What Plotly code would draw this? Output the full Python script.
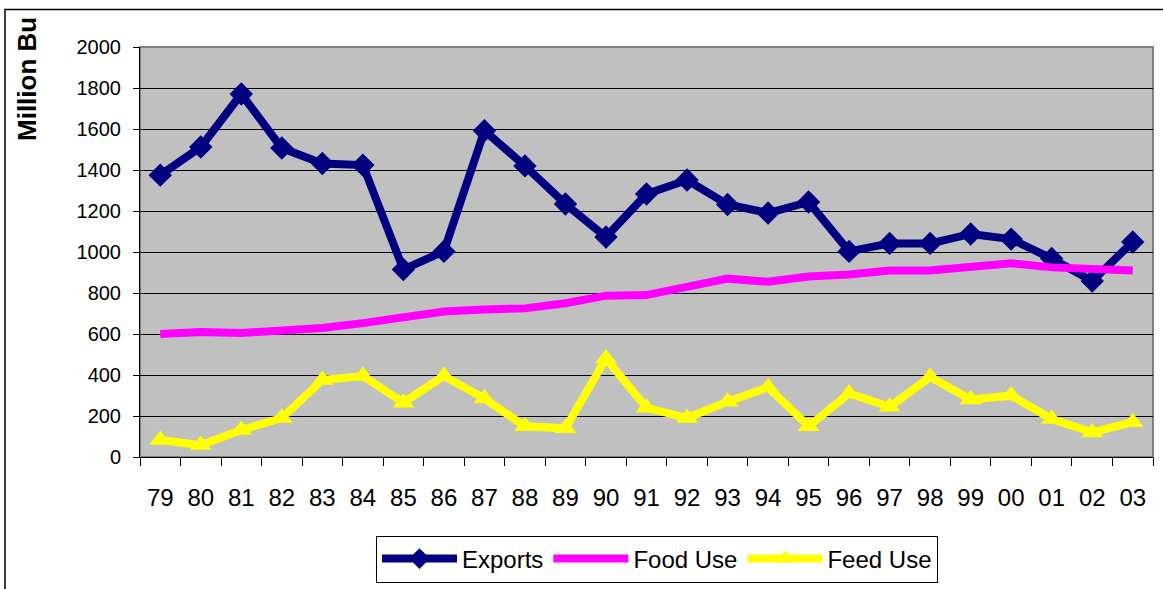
import plotly.graph_objects as go

years = ["79", "80", "81", "82", "83", "84", "85", "86", "87", "88", "89", "90", "91",
         "92", "93", "94", "95", "96", "97", "98", "99", "00", "01", "02", "03"]
exports = [1375, 1512, 1771, 1507, 1432, 1424, 915, 1003, 1592, 1420, 1234, 1073, 1283,
           1351, 1232, 1190, 1244, 1003, 1042, 1042, 1088, 1063, 968, 858, 1049]
food_use = [600, 610, 605, 615, 629, 653, 680, 710, 720, 725, 750, 787, 790,
            830, 870, 855, 880, 890, 910, 910, 930, 945, 925, 915, 910]
feed_use = [83, 58, 132, 190, 376, 395, 265, 395, 285, 150, 140, 480, 240,
            190, 270, 340, 150, 310, 245, 390, 280, 300, 185, 120, 170]

W, H = 1163, 589
L, R, T, B = 140, 1153, 47, 457

def px_x(p):
    return (p - L) / (R - L)

def px_y(p):
    return (B - p) / (B - T)

fig = go.Figure()
fig.add_trace(go.Scatter(x=years, y=exports, name="Exports", mode="lines+markers",
                         line=dict(color="#000080", width=8),
                         marker=dict(symbol="diamond", size=18, color="#000080")))
fig.add_trace(go.Scatter(x=years, y=food_use, name="Food Use", mode="lines",
                         line=dict(color="#FF00FF", width=8)))
fig.add_trace(go.Scatter(x=years, y=feed_use, name="Feed Use", mode="lines+markers",
                         line=dict(color="#FFFF00", width=8),
                         marker=dict(symbol="triangle-up", size=19, color="#FFFF00")))

fig.update_layout(
    width=W, height=H,
    margin=dict(l=L, r=W - R, t=T, b=H - B, pad=0, autoexpand=False),
    paper_bgcolor="white",
    plot_bgcolor="#C0C0C0",
    font=dict(family="Liberation Sans, Arial, sans-serif", color="black"),
    showlegend=True,
    legend=dict(orientation="h", x=px_x(657), y=px_y(559), xanchor="center", yanchor="middle",
                bordercolor="black", borderwidth=1, bgcolor="white",
                font=dict(size=24), itemwidth=75, tracegroupgap=0),
    xaxis=dict(type="category", tickson="boundaries", ticks="outside", ticklen=8,
               tickcolor="black", showgrid=False, showline=True, linecolor="black",
               linewidth=1, tickfont=dict(size=24), ticklabelstandoff=19,
               range=[-0.5, len(years) - 0.5]),
    yaxis=dict(range=[0, 2000], dtick=200, ticks="outside", ticklen=6, tickcolor="black",
               showgrid=True, gridcolor="black", gridwidth=1, showline=True,
               linecolor="black", linewidth=1, tickfont=dict(size=20),
               ticklabelstandoff=8, zeroline=False),
    shapes=[
        dict(type="rect", xref="paper", yref="paper", x0=0, x1=1, y0=0, y1=1,
             line=dict(color="#808080", width=2), layer="below"),
        dict(type="rect", xref="paper", yref="paper", x0=px_x(5), x1=px_x(1175),
             y0=px_y(610), y1=px_y(9.5), line=dict(color="black", width=1.5)),
    ],
    annotations=[
        dict(text="<b>Million Bu</b>", xref="paper", yref="paper", x=px_x(27), y=px_y(15),
             xanchor="center", yanchor="top", textangle=-90, showarrow=False,
             font=dict(size=26, color="black")),
    ],
)

fig.write_html("out.html", config={"displayModeBar": False},
               post_script="document.body.style.margin='0';document.body.style.overflow='hidden';")
